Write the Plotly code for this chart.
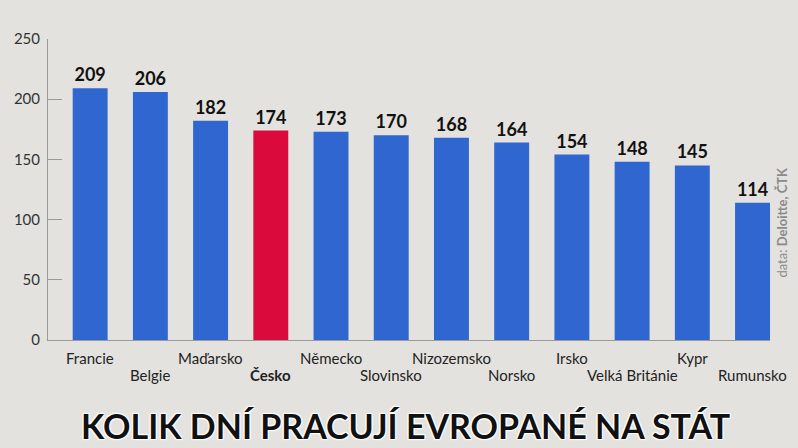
import plotly.graph_objects as go

# Kolik dní pracují Evropané na stát (data: Deloitte, ČTK)
countries = ["Francie", "Belgie", "Maďarsko", "Česko", "Německo", "Slovinsko",
             "Nizozemsko", "Norsko", "Irsko", "Velká Británie", "Kypr", "Rumunsko"]
days = [209, 206, 182, 174, 173, 170, 168, 164, 154, 148, 145, 114]
highlight = "Česko"

BLUE = "#3066cf"
RED = "#da0a3c"
FONT = "Lato"

colors = [RED if c == highlight else BLUE for c in countries]

fig = go.Figure()

fig.add_trace(go.Bar(
    x=countries,
    y=days,
    marker=dict(color=colors, line=dict(width=0)),
    width=0.58,
    text=[f"<b>{d}</b>" for d in days],
    textposition="outside",
    textfont=dict(family=FONT, size=18, color="#111111"),
    cliponaxis=False,
    hoverinfo="x+y",
))

# staggered category labels under the axis
for i, c in enumerate(countries):
    label = f"<b>{c}</b>" if c == highlight else c
    fig.add_annotation(
        x=c, y=0, xref="x", yref="paper",
        text=label, showarrow=False,
        yanchor="top", yshift=-7 if i % 2 == 0 else -24,
        font=dict(family=FONT, size=15, color="#222222"),
    )

# source, rotated on the right edge
fig.add_annotation(
    x=1.0, y=0.39, xref="paper", yref="paper",
    xshift=22, text="data: <b>Deloitte, ČTK</b>",
    textangle=-90, showarrow=False,
    font=dict(family=FONT, size=13, color="#8a8a8a"),
)

# big title at the bottom
fig.add_annotation(
    x=0.495, y=0, xref="paper", yref="paper",
    yshift=-85, yanchor="middle",
    text="<b>KOLIK DNÍ PRACUJÍ EVROPANÉ NA STÁT</b>",
    showarrow=False,
    font=dict(family=FONT, size=34, color="#111111",
              shadow="1px 1px 1px #ffffff, -1px -1px 1px #ffffff, 1px -1px 1px #ffffff, -1px 1px 1px #ffffff"),
)

fig.update_layout(
    width=798, height=448,
    margin=dict(l=48, r=28, t=39, b=108),
    paper_bgcolor="#e4e2df",
    plot_bgcolor="rgba(0,0,0,0)",
    showlegend=False,
    xaxis=dict(
        range=[-0.7, 11.29],
        showticklabels=False,
        showline=True, linecolor="#9a9a9a", linewidth=1,
        ticks="", showgrid=False, zeroline=False,
    ),
    yaxis=dict(
        range=[0, 250],
        tickvals=[0, 50, 100, 150, 200, 250],
        ticks="inside", ticklen=14, tickcolor="#9a9a9a",
        showline=True, linecolor="#9a9a9a", linewidth=1,
        showgrid=False, zeroline=False,
        tickfont=dict(family=FONT, size=15, color="#333333"),
        ticklabelstandoff=4,
    ),
)

# page has a default 8px body margin; drop it so the figure fills the window
fig.write_html("out.html", config={"displayModeBar": False},
               post_script="document.body.style.margin='0';")
